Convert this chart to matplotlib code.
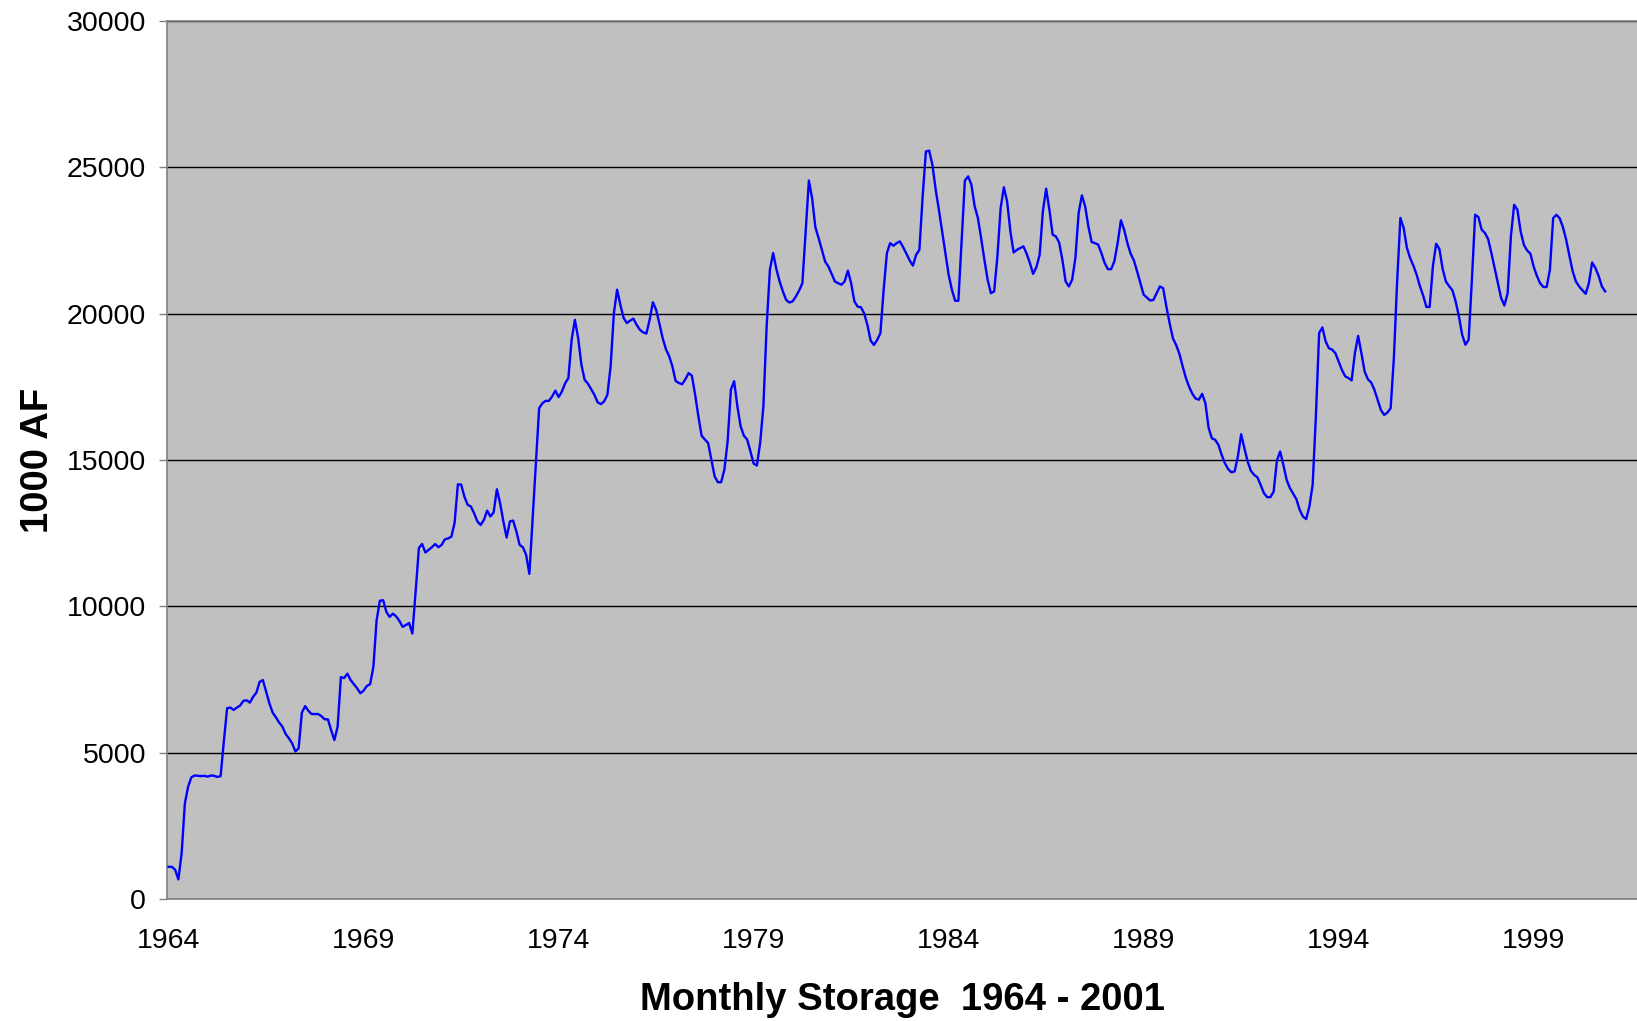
import numpy as np
import matplotlib
matplotlib.use("Agg")
import matplotlib.pyplot as plt

# --- monthly storage, 1000 AF, starting Jan 1964 (one row per year) ---
storage = [
    1100, 1100, 1000, 670, 1560, 3270, 3840, 4160, 4220, 4210, 4200, 4210,
    4180, 4220, 4210, 4170, 4200, 5400, 6520, 6540, 6460, 6540, 6610, 6770,
    6790, 6710, 6910, 7050, 7420, 7480, 7080, 6690, 6370, 6210, 6030, 5890,
    5640, 5490, 5320, 5040, 5150, 6370, 6590, 6430, 6320, 6320, 6320, 6250,
    6140, 6140, 5770, 5430, 5890, 7580, 7550, 7700, 7480, 7340, 7200, 7030,
    7120, 7280, 7340, 7930, 9530, 10190, 10210, 9810, 9640, 9750, 9660, 9500,
    9300, 9360, 9430, 9070, 10500, 11990, 12130, 11840, 11930, 12020, 12130, 12020,
    12100, 12290, 12320, 12380, 12860, 14170, 14160, 13750, 13470, 13410, 13180, 12900,
    12780, 12950, 13270, 13070, 13210, 14000, 13520, 12900, 12350, 12900, 12930, 12560,
    12100, 12020, 11760, 11110, 13000, 14900, 16770, 16940, 17020, 17020, 17170, 17370,
    17150, 17340, 17620, 17800, 19110, 19790, 19170, 18260, 17740, 17610, 17420, 17230,
    16970, 16910, 17000, 17230, 18200, 20020, 20820, 20300, 19850, 19680, 19760, 19830,
    19620, 19450, 19360, 19320, 19790, 20390, 20130, 19660, 19170, 18790, 18550, 18200,
    17700, 17630, 17590, 17760, 17970, 17880, 17230, 16490, 15830, 15700, 15580, 15010,
    14440, 14240, 14240, 14670, 15640, 17400, 17690, 16830, 16150, 15830, 15700, 15300,
    14880, 14810, 15580, 16830, 19560, 21500, 22070, 21520, 21100, 20760, 20470, 20380,
    20420, 20590, 20790, 21040, 22800, 24550, 23940, 22950, 22580, 22180, 21780, 21610,
    21360, 21100, 21040, 20990, 21100, 21470, 21040, 20420, 20240, 20220, 20010, 19620,
    19080, 18930, 19100, 19330, 20810, 22070, 22410, 22320, 22410, 22470, 22270, 22050,
    21820, 21640, 22010, 22180, 24000, 25540, 25570, 25090, 24250, 23550, 22810, 22070,
    21330, 20820, 20440, 20440, 22530, 24550, 24690, 24410, 23670, 23270, 22580, 21840,
    21160, 20700, 20760, 21950, 23610, 24320, 23830, 22810, 22090, 22180, 22240, 22300,
    22050, 21730, 21360, 21590, 22010, 23500, 24270, 23550, 22700, 22640, 22430, 21840,
    21100, 20930, 21160, 21900, 23440, 24040, 23670, 22980, 22450, 22410, 22360, 22070,
    21730, 21520, 21520, 21790, 22410, 23190, 22870, 22410, 22050, 21820, 21440, 21040,
    20650, 20550, 20450, 20470, 20700, 20930, 20870, 20240, 19670, 19160, 18930, 18630,
    18200, 17800, 17500, 17260, 17100, 17060, 17260, 16940, 16090, 15740, 15690, 15520,
    15180, 14890, 14690, 14580, 14610, 15120, 15880, 15400, 14950, 14630, 14490, 14410,
    14150, 13870, 13730, 13730, 13920, 14980, 15290, 14830, 14320, 14040, 13850, 13660,
    13300, 13070, 12980, 13410, 14150, 16500, 19340, 19530, 19050, 18820, 18770, 18650,
    18370, 18080, 17860, 17800, 17720, 18650, 19240, 18650, 18020, 17760, 17650, 17400,
    17060, 16710, 16540, 16620, 16770, 18500, 21100, 23270, 22930, 22250, 21900, 21640,
    21330, 20940, 20620, 20230, 20230, 21620, 22390, 22210, 21530, 21100, 20940, 20800,
    20420, 19910, 19280, 18940, 19110, 21160, 23380, 23300, 22870, 22760, 22550, 22070,
    21560, 21050, 20530, 20280, 20700, 22640, 23720, 23550, 22810, 22350, 22160, 22050,
    21610, 21290, 21040, 20910, 20910, 21500, 23260, 23380, 23260, 22960, 22530, 21980,
    21450, 21100, 20930, 20800, 20680, 21050, 21750, 21560, 21290, 20930, 20760,
]

start_year = 1964
label_years = [1964, 1969, 1974, 1979, 1984, 1989, 1994, 1999]
y_ticks = [0, 5000, 10000, 15000, 20000, 25000, 30000]

plt.rcParams['font.family'] = ['Liberation Sans', 'DejaVu Sans']

fig = plt.figure(figsize=(16.37, 10.21), dpi=100)
ax = fig.add_axes([167 / 1637, 122 / 1021, 1470 / 1637, 878 / 1021])
ax.set_facecolor('#c0c0c0')

months = np.arange(len(storage))
ax.plot(months, storage, color='#0000ff', linewidth=1.7, zorder=3)

# category axis, the chart is cut at the right edge of the image
ax.set_xlim(-0.5, 451.8)
ax.set_ylim(0, 30000)

tick_pos = [12 * (y - start_year) for y in label_years]
ax.set_xticks(tick_pos)
ax.set_xticklabels([str(y) for y in label_years])
ax.set_yticks(y_ticks)
ax.set_yticklabels([str(v) for v in y_ticks])

ax.tick_params(axis='x', length=0, pad=21, labelsize=20.5)
ax.tick_params(axis='y', length=6, width=1, color='#808080', pad=9, labelsize=20.5)

ax.yaxis.grid(True, color='black', linewidth=1.0)
ax.set_axisbelow(True)

for side in ['left', 'bottom', 'top']:
    ax.spines[side].set_color('#808080')
    ax.spines[side].set_linewidth(1.2)
ax.spines['right'].set_visible(False)

ax.set_xlabel('Monthly Storage  1964 - 2001', fontsize=27.5, fontweight='bold')
ax.xaxis.label.set_va('center')
ax.xaxis.set_label_coords(0.5, -0.115)
ax.set_ylabel('1000 AF', fontsize=27.5, fontweight='bold')
ax.yaxis.label.set_va('center')
ax.yaxis.set_label_coords(-0.088, 0.5)

fig.savefig('out.png', dpi=100, facecolor='white')
